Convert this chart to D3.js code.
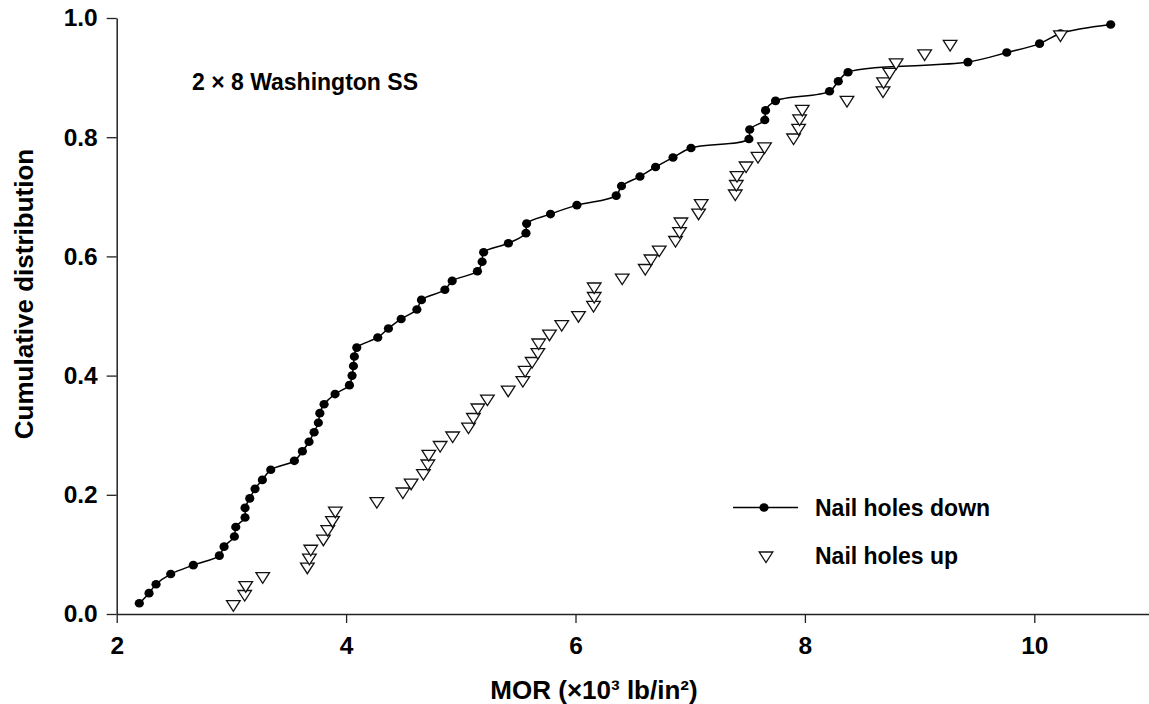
<!DOCTYPE html>
<html>
<head>
<meta charset="utf-8">
<script src="https://cdn.jsdelivr.net/npm/d3@7"></script>
<style>
  html, body { margin: 0; padding: 0; background: #fff; }
  svg { display: block; font-family: "Liberation Sans", Arial, sans-serif; }
</style>
</head>
<body>
<svg id="chart" width="1149" height="704"></svg>
<script>
// MOR values (x10^3 lb/in^2) and cumulative fractions, nail holes down
const downMOR = [2.197, 2.282, 2.343, 2.471, 2.668, 2.895, 2.936, 3.026, 3.038, 3.119,
  3.119, 3.160, 3.206, 3.270, 3.343, 3.549, 3.619, 3.677, 3.721, 3.758,
  3.771, 3.808, 3.904, 4.029, 4.052, 4.064, 4.072, 4.093, 4.276, 4.369,
  4.480, 4.617, 4.657, 4.861, 4.925, 5.145, 5.186, 5.199, 5.415, 5.568,
  5.574, 5.782, 6.012, 6.355, 6.401, 6.562, 6.698, 6.850, 7.007, 7.512,
  7.519, 7.650, 7.657, 7.744, 8.215, 8.291, 8.376, 9.421, 9.760, 10.046,
  10.228, 10.666];
const downCum = [0.018, 0.035, 0.050, 0.067, 0.082, 0.098, 0.113, 0.130, 0.146, 0.162,
  0.178, 0.194, 0.210, 0.225, 0.242, 0.257, 0.273, 0.289, 0.305, 0.321,
  0.337, 0.352, 0.369, 0.384, 0.400, 0.416, 0.432, 0.447, 0.464, 0.479,
  0.495, 0.511, 0.527, 0.544, 0.559, 0.575, 0.591, 0.607, 0.622, 0.639,
  0.655, 0.671, 0.686, 0.702, 0.718, 0.734, 0.750, 0.766, 0.782, 0.797,
  0.813, 0.829, 0.845, 0.861, 0.877, 0.894, 0.909, 0.926, 0.942, 0.957,
  0.974, 0.989];

// MOR values and cumulative fractions, nail holes up
const upMOR = [3.017, 3.116, 3.125, 3.273, 3.662, 3.680, 3.692, 3.802, 3.840, 3.881,
  3.906, 4.268, 4.495, 4.567, 4.674, 4.713, 4.721, 4.820, 4.929, 5.067,
  5.110, 5.149, 5.232, 5.413, 5.541, 5.561, 5.622, 5.672, 5.679, 5.773,
  5.880, 6.026, 6.157, 6.163, 6.163, 6.407, 6.608, 6.658, 6.730, 6.872,
  6.907, 6.919, 7.073, 7.096, 7.393, 7.402, 7.408, 7.487, 7.591, 7.648,
  7.901, 7.945, 7.954, 7.977, 8.367, 8.681, 8.686, 8.739, 8.795, 9.044,
  9.266, 10.228];
const upCum = [0.014, 0.031, 0.046, 0.061, 0.077, 0.092, 0.107, 0.124, 0.140, 0.155,
  0.171, 0.187, 0.203, 0.218, 0.234, 0.250, 0.266, 0.281, 0.297, 0.312,
  0.328, 0.344, 0.359, 0.374, 0.390, 0.407, 0.422, 0.437, 0.453, 0.468,
  0.484, 0.499, 0.516, 0.531, 0.547, 0.562, 0.578, 0.594, 0.609, 0.625,
  0.640, 0.656, 0.671, 0.687, 0.703, 0.719, 0.734, 0.750, 0.766, 0.782,
  0.797, 0.813, 0.829, 0.845, 0.860, 0.876, 0.891, 0.907, 0.923, 0.938,
  0.954, 0.970];

const xTicks = [2, 4, 6, 8, 10];
const yTicks = [0, 0.2, 0.4, 0.6, 0.8, 1.0];
const seriesNames = ["Nail holes down", "Nail holes up"];
const panelTitle = "2 \u00d7 8 Washington SS";

const svg = d3.select("#chart");
const x = d3.scaleLinear().domain([2, 11]).range([116.7, 1149]);
const y = d3.scaleLinear().domain([0, 1]).range([614, 18]);

const down = downMOR.map((v, i) => ({ x: v, y: downCum[i] }));
const up = upMOR.map((v, i) => ({ x: v, y: upCum[i] }));

// axes
const xAxis = svg.append("g")
  .attr("transform", `translate(0,${y(0)})`)
  .call(d3.axisBottom(x).tickValues(xTicks).tickFormat(d3.format("d"))
    .tickSize(9).tickSizeOuter(0).tickPadding(14));
const yAxis = svg.append("g")
  .attr("transform", `translate(${x(2)},0)`)
  .call(d3.axisLeft(y).tickValues(yTicks).tickFormat(d3.format(".1f"))
    .tickSize(10).tickSizeOuter(0).tickPadding(9));
[xAxis, yAxis].forEach(g => {
  g.select(".domain").attr("stroke", "#222").attr("stroke-width", 1.5);
  g.selectAll(".tick line").attr("stroke", "#222").attr("stroke-width", 1.3);
  g.selectAll(".tick text").attr("fill", "#000").style("font-size", "24.5px")
    .style("font-weight", "bold").style("font-family", "'Liberation Sans', Arial, sans-serif");
});

// axis titles
svg.append("text")
  .attr("x", 594).attr("y", 699)
  .attr("text-anchor", "middle")
  .style("font-size", "26px").style("font-weight", "bold")
  .text("MOR (\u00d710\u00b3 lb/in\u00b2)");
svg.append("text")
  .attr("transform", "translate(33,294) rotate(-90)")
  .attr("text-anchor", "middle")
  .style("font-size", "26px").style("font-weight", "bold")
  .text("Cumulative distribution");

// panel label
svg.append("text")
  .attr("x", 192).attr("y", 90)
  .style("font-size", "23px").style("font-weight", "bold")
  .text(panelTitle);

// nail holes down: smoothed line through filled dots
const line = d3.line().x(d => x(d.x)).y(d => y(d.y)).curve(d3.curveCatmullRom.alpha(0.5));
svg.append("path").datum(down)
  .attr("d", line).attr("fill", "none").attr("stroke", "#000").attr("stroke-width", 1.5);
svg.append("g").selectAll("ellipse").data(down).join("ellipse")
  .attr("cx", d => x(d.x)).attr("cy", d => y(d.y))
  .attr("rx", 4.6).attr("ry", 4.3).attr("fill", "#000");

// nail holes up: open down-pointing triangles
const tri = "M-6.8,-5L6.8,-5L0,5.6Z";
svg.append("g").selectAll("path").data(up).join("path")
  .attr("d", tri)
  .attr("transform", d => `translate(${x(d.x)},${y(d.y)})`)
  .attr("fill", "#fff").attr("stroke", "#111").attr("stroke-width", 1.3);

// legend
const lg = svg.append("g");
lg.append("line").attr("x1", 733).attr("x2", 798).attr("y1", 507.5).attr("y2", 507.5)
  .attr("stroke", "#000").attr("stroke-width", 1.5);
lg.append("ellipse").attr("cx", 764).attr("cy", 507.5).attr("rx", 4.6).attr("ry", 4.3).attr("fill", "#000");
lg.append("path").attr("d", tri).attr("transform", "translate(766,557)")
  .attr("fill", "#fff").attr("stroke", "#111").attr("stroke-width", 1.3);
lg.selectAll("text").data(seriesNames).join("text")
  .attr("x", 815).attr("y", (d, i) => 516 + i * 48)
  .style("font-size", "23px").style("font-weight", "bold")
  .text(d => d);
</script>
</body>
</html>
